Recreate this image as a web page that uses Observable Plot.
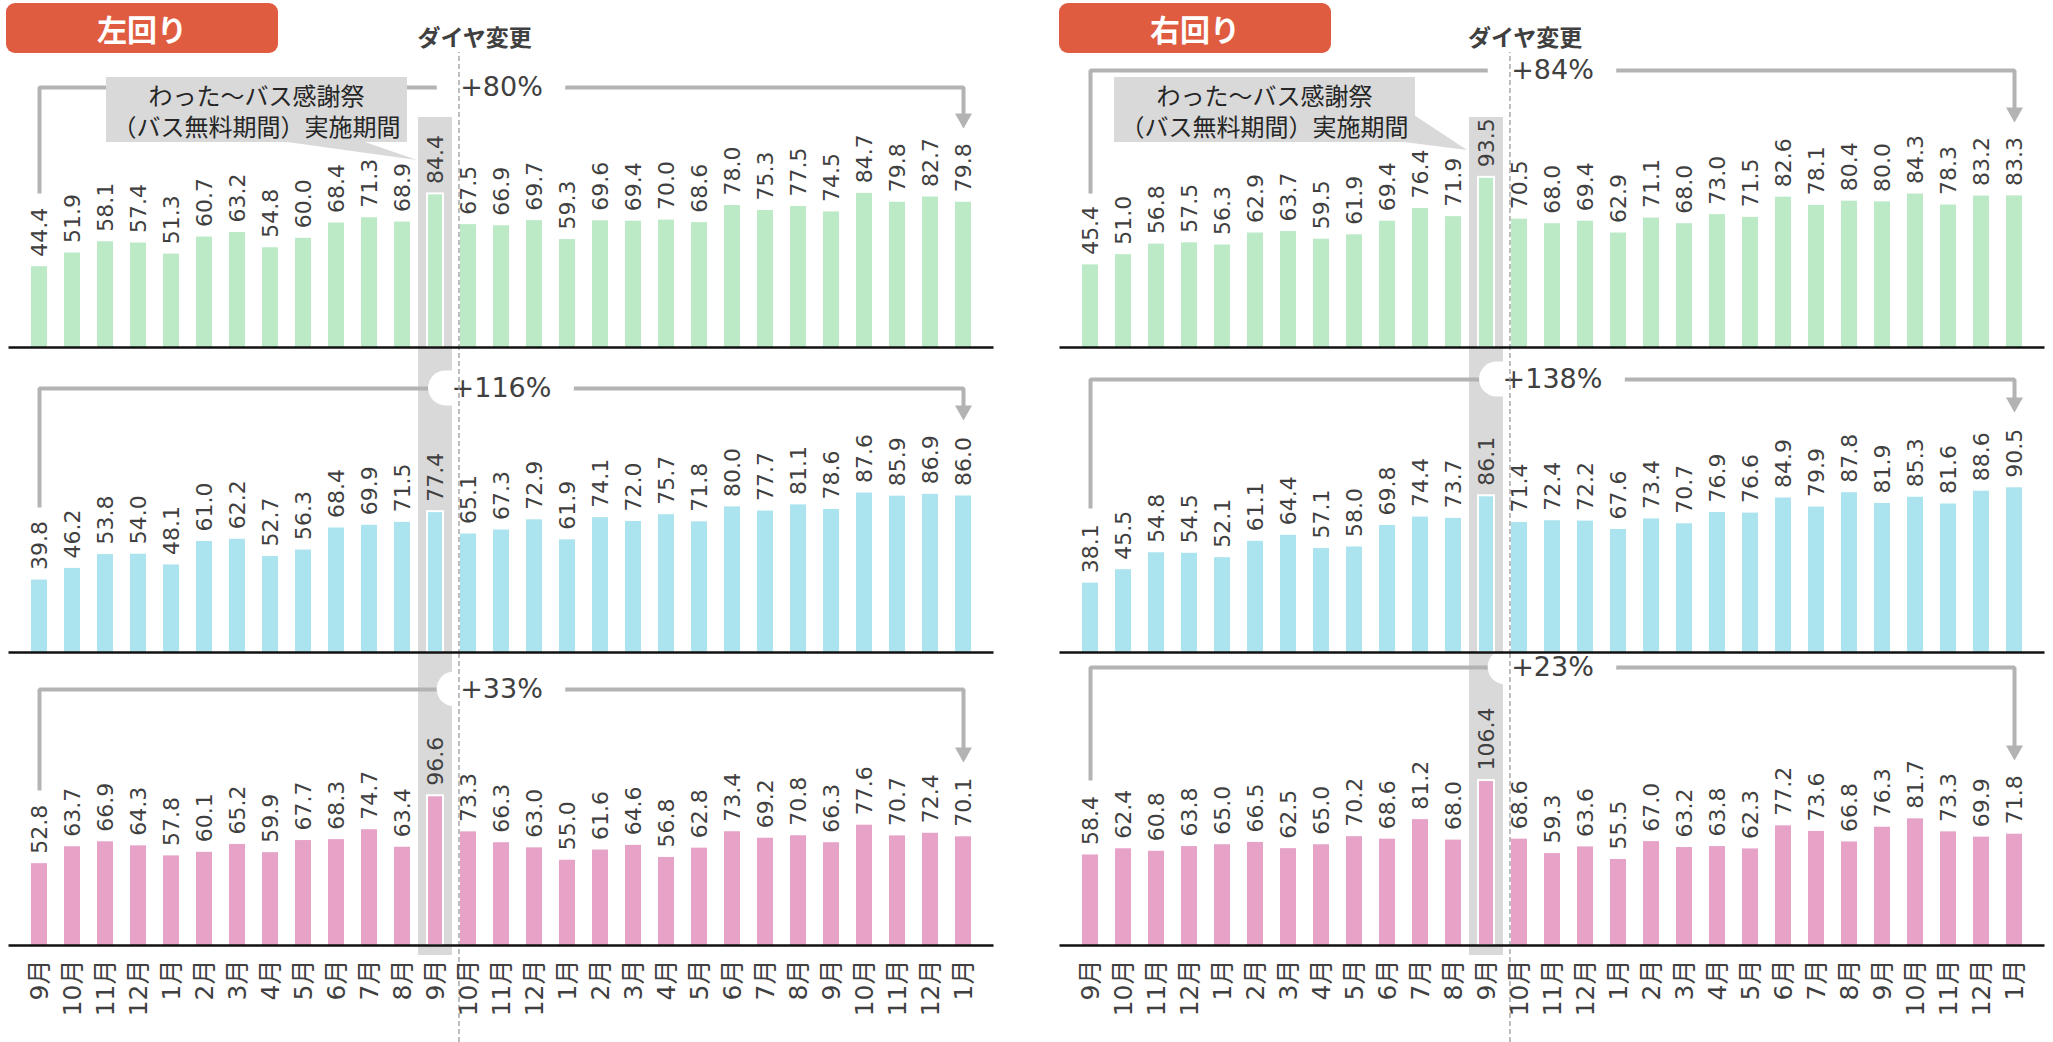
<!DOCTYPE html>
<html><head><meta charset="utf-8">
<script src="https://cdn.jsdelivr.net/npm/d3@7"></script>
<script src="https://cdn.jsdelivr.net/npm/@observablehq/plot@0.6"></script>
<style>
body{margin:0;background:#fff;}
#root{position:relative;width:2053px;height:1042px;overflow:hidden;font-family:"DejaVu Sans","Noto Sans CJK JP",sans-serif;}
.abs{position:absolute;}
.tag{background:#e05c40;color:#fff;font:700 30px/1 "Noto Sans CJK JP";border-radius:9px;display:flex;align-items:center;justify-content:center;z-index:20;}
.dia{font:700 23px/23px "Noto Sans CJK JP";color:#404040;transform:translateX(-50%);white-space:nowrap;z-index:20;}
.callout{background:#d9d9d9;color:#262626;font:400 24px/31px "Noto Sans CJK JP";text-align:center;display:flex;flex-direction:column;justify-content:center;z-index:20;white-space:nowrap;}
.row svg{overflow:visible;background:transparent;}
</style></head><body><div id="root"></div>
<script>
// ---- data ----
const months = ["9月","10月","11月","12月","1月","2月","3月","4月","5月","6月","7月","8月","9月","10月","11月","12月","1月","2月","3月","4月","5月","6月","7月","8月","9月","10月","11月","12月","1月"];
const leftGreen = [44.4,51.9,58.1,57.4,51.3,60.7,63.2,54.8,60.0,68.4,71.3,68.9,84.4,67.5,66.9,69.7,59.3,69.6,69.4,70.0,68.6,78.0,75.3,77.5,74.5,84.7,79.8,82.7,79.8];
const leftBlue  = [39.8,46.2,53.8,54.0,48.1,61.0,62.2,52.7,56.3,68.4,69.9,71.5,77.4,65.1,67.3,72.9,61.9,74.1,72.0,75.7,71.8,80.0,77.7,81.1,78.6,87.6,85.9,86.9,86.0];
const leftPink  = [52.8,63.7,66.9,64.3,57.8,60.1,65.2,59.9,67.7,68.3,74.7,63.4,96.6,73.3,66.3,63.0,55.0,61.6,64.6,56.8,62.8,73.4,69.2,70.8,66.3,77.6,70.7,72.4,70.1];
const rightGreen = [45.4,51.0,56.8,57.5,56.3,62.9,63.7,59.5,61.9,69.4,76.4,71.9,93.5,70.5,68.0,69.4,62.9,71.1,68.0,73.0,71.5,82.6,78.1,80.4,80.0,84.3,78.3,83.2,83.3];
const rightBlue  = [38.1,45.5,54.8,54.5,52.1,61.1,64.4,57.1,58.0,69.8,74.4,73.7,86.1,71.4,72.4,72.2,67.6,73.4,70.7,76.9,76.6,84.9,79.9,87.8,81.9,85.3,81.6,88.6,90.5];
const rightPink  = [58.4,62.4,60.8,63.8,65.0,66.5,62.5,65.0,70.2,68.6,81.2,68.0,106.4,68.6,59.3,63.6,55.5,67.0,63.2,63.8,62.3,77.2,73.6,66.8,76.3,81.7,73.3,69.9,71.8];
const titles = ["左回り","右回り"];
const changeLabel = "ダイヤ変更";
const calloutLines = ["わった～バス感謝祭","（バス無料期間）実施期間"];
const leftPct = ["+80%","+116%","+33%"];
const rightPct = ["+84%","+138%","+23%"];
const highlightIndex = 12;   // 感謝祭の月
const pctIndex = 14;         // 増加率ラベルの位置
// bracket annotation levels (data units per row)
const leftBracket = [142.9,145.1,165.2], leftStart = [84.6,79.7,100.0], leftTip = [120.3,127.5,118.1];
const rightBracket = [152.2,150.0,179.4], rightStart = [84.6,79.1,106.5], rightTip = [123.6,131.9,119.4];
const bandTopValue = 126.4;

// ---- style / layout ----
const colors = ["#bce9c6","#abe4ee","#e6a2c7"];
const gray = "#b3b3b3", txt = "#404040";
const rows = [{top:52,height:297,base:295,k:1.82},{top:349,height:305,base:303,k:1.82},{top:654,height:388,base:291,k:1.55}];
const panelX = [0, 1050.5], tagX = [6, 1059], calloutX = [106, 1114];
const W = 1002, ML = 8.5, MR = 8.5, PIN = 0.53, POUT = 0.265;
const step = (W - ML - MR) / months.length, bw = step * (1 - PIN);
const fontFam = '"DejaVu Sans","Noto Sans CJK JP",sans-serif';
const pctSize = 27;

const panels = [
  {series:[leftGreen,leftBlue,leftPink], pct:leftPct, bracket:leftBracket, start:leftStart, tip:leftTip},
  {series:[rightGreen,rightBlue,rightPink], pct:rightPct, bracket:rightBracket, start:rightStart, tip:rightTip}
];

const ctx = document.createElement("canvas").getContext("2d");
ctx.font = pctSize + 'px "DejaVu Sans"';
const downTriangle = {draw(c){ c.moveTo(-8.5,-15); c.lineTo(8.5,-15); c.lineTo(0,0); c.closePath(); }};

function rowPlot(values, color, row, r, P) {
  const {height, base, k} = row;
  const mb = height - base;
  const yTop = base / k, yBot = -mb / k;
  const last = r === 2;
  const data = values.map((v, i) => ({i, v}));
  const n = values.length;
  const bandTop = r === 0 ? bandTopValue : yTop;
  const bandBot = last ? -10 / k : yBot;
  const level = P.bracket[r], tip = P.tip[r];
  const pts = [{x:0,y:P.start[r]},{x:0,y:level},{x:n-1,y:level},{x:n-1,y:tip + 10/k}];
  const lab = P.pct[r];
  const hw = ctx.measureText(lab).width + 46;
  const infl = (step - bw) / 2;
  const marks = [
    Plot.barY([highlightIndex], {x: d => d, y1: () => bandBot, y2: () => bandTop, fill:"#d9d9d9", insetLeft:-infl, insetRight:-infl}),
    Plot.barY(data, {x:"i", y:"v", fill: color}),
    Plot.barY(data.filter(d => d.i === highlightIndex), {x:"i", y:"v", fill: color, stroke:"white", strokeWidth:2}),
    Plot.text(data, {x:"i", y:"v", text: d => d.v.toFixed(1), rotate:-90, textAnchor:"start", lineAnchor:"middle", dy:-10, fontSize:22, fill: txt}),
    Plot.line(pts, {x:"x", y:"y", stroke: gray, strokeWidth:4, strokeLinejoin:"miter", strokeLinecap:"butt"}),
    Plot.dot([{x:n-1,y:tip}], {x:"x", y:"y", symbol: downTriangle, fill: gray, stroke:"none"}),
    Plot.barY([lab], {x: () => pctIndex, y1: () => level, y2: () => level, insetTop:-17.5, insetBottom:-17.5, insetLeft: -(hw - bw)/2, insetRight: -(hw - bw)/2, rx:17.5, fill:"white"}),
    Plot.text([lab], {x: () => pctIndex, y: () => level, text: d => d, fontSize:pctSize, fill: txt, textAnchor:"middle", lineAnchor:"middle"}),
    Plot.ruleX([highlightIndex], {x: d => d, y1: () => yBot, y2: () => yTop, dx: step/2 + 6.5, stroke:"#9a9a9a", strokeWidth:1.3, strokeDasharray:"5,3"}),
    Plot.ruleY([0], {stroke:"#111", strokeWidth:2.5})
  ];
  if (last) marks.push(Plot.axisX({tickFormat: i => months[i], tickRotate:-90, tickSize:0, tickPadding:14, fontSize:25, color: txt, label:null}));
  return Plot.plot({
    width: W, height, marginLeft: ML, marginRight: MR, marginTop: 0, marginBottom: mb,
    x: {type:"band", domain: d3.range(n), paddingInner: PIN, paddingOuter: POUT, align:0.5, axis: last ? undefined : null, label:null},
    y: {domain:[0, yTop], axis:null},
    style: {background:"transparent", overflow:"visible", fontFamily: fontFam},
    marks
  });
}

const root = document.getElementById("root");
panels.forEach((P, p) => {
  rows.forEach((row, r) => {
    const div = document.createElement("div");
    div.className = "abs row";
    div.style.left = panelX[p] + "px";
    div.style.top = row.top + "px";
    div.style.zIndex = 10 - r;
    div.appendChild(rowPlot(P.series[r], colors[r], row, r, P));
    root.appendChild(div);
  });
  const tag = document.createElement("div");
  tag.className = "abs tag";
  Object.assign(tag.style, {left: tagX[p] + "px", top: "3px", width: "272px", height: "50px"});
  tag.textContent = titles[p];
  root.appendChild(tag);
  const dia = document.createElement("div");
  dia.className = "abs dia";
  const cx = panelX[p] + ML + step * highlightIndex + step/2 + step/2 + 6.5;
  Object.assign(dia.style, {left: (cx + 18) + "px", top: "25px"});
  dia.textContent = changeLabel;
  root.appendChild(dia);
  const co = document.createElement("div");
  co.className = "abs callout";
  Object.assign(co.style, {left: calloutX[p] + "px", top: "77px", width: "301px", height: "65px"});
  calloutLines.forEach(t => { const s = document.createElement("div"); s.textContent = t; co.appendChild(s); });
  root.appendChild(co);
});
// callout pointers
const ns = "http://www.w3.org/2000/svg";
const ov = document.createElementNS(ns, "svg");
ov.setAttribute("width", 2053); ov.setAttribute("height", 1042);
ov.setAttribute("class", "abs"); ov.style.left = "0"; ov.style.top = "0"; ov.style.zIndex = 19; ov.style.pointerEvents = "none";
["280,141 362,141 417,160", "1396,141 1414,115 1467,150"].forEach(pts => {
  const pg = document.createElementNS(ns, "polygon");
  pg.setAttribute("points", pts); pg.setAttribute("fill", "#d9d9d9");
  ov.appendChild(pg);
});
root.appendChild(ov);
</script></body></html>
